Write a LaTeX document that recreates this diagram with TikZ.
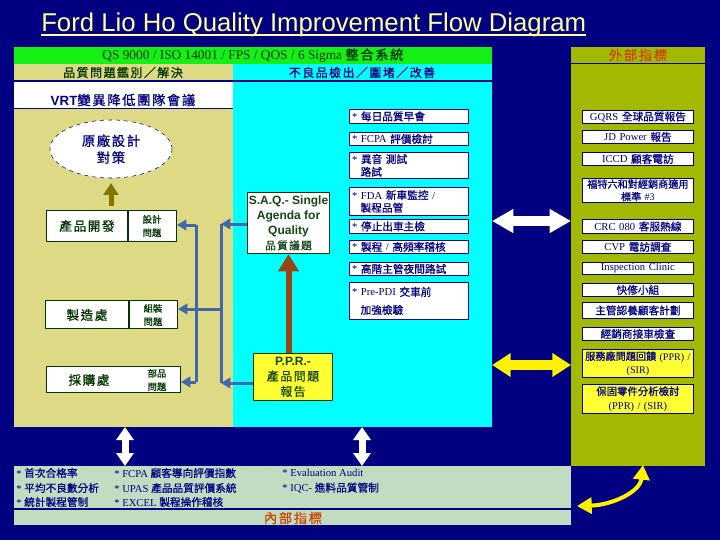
\documentclass[tikz,border=0pt]{standalone}
\usepackage{fontspec}
\setmainfont{Liberation Serif}
\newfontfamily\arialf{Liberation Sans}
\newfontfamily\cjk[FakeBold=0.8]{Noto Sans CJK TC}
\newfontfamily\cjkw[LetterSpace=12.0,FakeBold=0.8]{Noto Sans CJK TC}
\newcommand{\zh}[1]{{\cjk #1}}
\newcommand{\zhw}[1]{{\cjkw #1}}
\usetikzlibrary{arrows.meta,shapes.geometric,calc}

\definecolor{navyc}{RGB}{0,0,128}
\definecolor{greenc}{RGB}{20,240,20}
\definecolor{tanc}{RGB}{221,217,133}
\definecolor{cyanc}{RGB}{0,255,255}
\definecolor{olivec}{RGB}{163,184,0}
\definecolor{lightc}{RGB}{194,220,194}
\definecolor{yelc}{RGB}{255,255,51}
\definecolor{dgreen}{RGB}{0,51,0}
\definecolor{sgreen}{RGB}{20,70,20}
\definecolor{blueac}{RGB}{68,102,170}
\definecolor{brownc}{RGB}{153,68,17}
\definecolor{oarrc}{RGB}{128,118,0}
\definecolor{orangec}{RGB}{204,68,0}
\definecolor{titlec}{RGB}{255,255,153}

\begin{document}
\begin{tikzpicture}[x=0.75pt,y=0.75pt,yscale=-1,xscale=1,
  panel/.style={anchor=north west,inner sep=0pt,outer sep=0pt},
  cbox/.style={anchor=north west,draw=navyc,fill=white,line width=0.6pt,inner xsep=2pt,inner ysep=0pt,text width=85pt,align=left,minimum height=#1,text=navyc,font=\fontsize{8}{9.5}\selectfont},
  ebox/.style={anchor=north west,draw=navyc,fill=white,line width=0.6pt,inner xsep=1.5pt,inner ysep=0pt,text width=80.25pt,align=center,minimum height=#1,text=navyc,font=\fontsize{8}{9.5}\selectfont},
  lbox/.style={anchor=north west,draw=dgreen,fill=white,line width=0.8pt,inner sep=0pt},
  ltxt/.style={text=dgreen,inner sep=0pt,font=\fontsize{9.5}{11}\selectfont},
  stxt/.style={text=dgreen,inner sep=0pt,align=center,font=\fontsize{7}{10}\selectfont},
  btxt/.style={anchor=west,text=navyc,inner sep=0pt,font=\fontsize{8}{9.5}\selectfont},
  bline/.style={draw=blueac,line width=2.25pt},
  barrow/.style={bline,-{Triangle[length=7pt,width=8pt]}},
  wdarrow/.style={draw=white,line width=7.5pt,{Triangle[length=16pt,width=17pt]}-{Triangle[length=16pt,width=17pt]}},
  ydarrow/.style={draw=yellow,line width=7.5pt,{Triangle[length=14pt,width=17pt]}-{Triangle[length=14pt,width=17pt]}},
  wvarrow/.style={draw=white,line width=5.25pt,{Triangle[length=9.75pt,width=12.75pt]}-{Triangle[length=9.75pt,width=12.75pt]}},
  ycurve/.style={draw=yellow,line width=3pt,{Triangle[length=11pt,width=12pt]}-{Triangle[length=11pt,width=12pt]}}
]
%Background
\fill[navyc] (0,0) rectangle (720,540);
\useasboundingbox (0,0) rectangle (720,540);

% Title
\node[anchor=base west,inner sep=0pt,text=titlec,font=\arialf\fontsize{19.3}{22}\selectfont] (title) at (41,31) {Ford Lio Ho Quality Improvement Flow Diagram};
\draw[titlec,line width=1.5pt] ($(title.base west)+(0,4)$) -- ($(title.base east)+(0,4)$);

%Shape: Panels
\node[panel,fill=greenc,minimum width=358.5pt,minimum height=12.75pt] (sysbar) at (14,47) {};
\node[panel,fill=tanc,minimum width=164.25pt,minimum height=12pt] (tanhead) at (14,64) {};
\node[panel,fill=cyanc,minimum width=194.25pt,minimum height=272.25pt] (cyanp) at (233,64) {};
\node[panel,fill=white,minimum width=164.25pt,minimum height=19.5pt] (vrtband) at (14,82) {};
\node[panel,fill=tanc,minimum width=164.25pt,minimum height=238.5pt] (tanp) at (14,109) {};
\node[panel,fill=olivec,minimum width=100.5pt,minimum height=314.25pt] (extp) at (571,47) {};
\node[panel,fill=lightc,minimum width=417.75pt,minimum height=44.25pt] (intp) at (14,466) {};

%Straight Lines
\draw[navyc,line width=1.2pt] (14,81) -- (492,81);
\draw[navyc,line width=0.8pt] (14,108.5) -- (233,108.5);
\draw[navyc,line width=1.2pt] (571,63.5) -- (705,63.5);
\draw[navyc,line width=0.8pt] (14,509) -- (571,509);

% Text Node
\node[text=dgreen,font=\fontsize{10}{12}\selectfont] (systxt) at (253,55.5) {QS 9000 / ISO 14001 / FPS / QOS / 6 Sigma \zhw{整合系統}};
\node[text=dgreen,font=\fontsize{9}{11}\selectfont] (tanhtxt) at (123,72.5) {\zhw{品質問題鑑別／解決}};
\node[text=navyc,font=\fontsize{9}{11}\selectfont] (cyanhtxt) at (362,72.5) {\zhw{不良品檢出／圍堵／改善}};
\node[text=orangec,font=\fontsize{10}{12}\selectfont] (exttxt) at (638,55) {\zhw{外部指標}};
\node[text=orangec,font=\fontsize{10}{12}\selectfont] (inttxt) at (293,518) {\zhw{內部指標}};
\node[text=navyc,font=\fontsize{10}{12}\selectfont] (vrttxt) at (123,100) {{\arialf\bfseries VRT}\zhw{變異降低團隊會議}};

%Shape: Ellipse
\node[ellipse,draw=navyc,dashed,fill=white,minimum width=91.5pt,minimum height=43.5pt,inner sep=0pt,align=center,text=navyc,font=\fontsize{10}{12.5}\selectfont] (vrt) at (111,149) {\zhw{原廠設計}\\\zhw{對策}};

%Shape: Left boxes
\node[lbox,minimum width=97.5pt,minimum height=23.25pt] (dev) at (46,210) {};
\draw[dgreen,line width=1pt] (128,210) -- (128,241);
\node[ltxt] (devtxt) at (87,226) {\zhw{產品開發}};
\node[stxt] (devsub) at (152,226) {\zh{設計}\\\zh{問題}};

\node[lbox,minimum width=99pt,minimum height=21pt] (mfg) at (45,300) {};
\draw[dgreen,line width=1pt] (129,300) -- (129,328);
\node[ltxt] (mfgtxt) at (87,315) {\zhw{製造處}};
\node[stxt] (mfgsub) at (153,315) {\zh{組裝}\\\zh{問題}};

\node[lbox,minimum width=100.5pt,minimum height=19.5pt] (buy) at (46,366) {};
\node[ltxt] (buytxt) at (89,380) {\zhw{採購處}};
\node[stxt] (buysub) at (157,380) {\zh{部品}\\\zh{問題}};

%Shape: S.A.Q. and P.P.R.
\node[draw=dgreen,fill=white,line width=0.8pt,anchor=north west,minimum width=61.5pt,minimum height=45.75pt,inner sep=0pt,align=center,text=sgreen,font=\arialf\bfseries\fontsize{9}{11.25}\selectfont] (saq) at (247,192) {S.A.Q.- Single\\Agenda for\\Quality\\{\mdseries\fontsize{8}{10}\selectfont\zhw{品質議題}}};
\node[draw=dgreen,fill=yelc,line width=0.8pt,anchor=north west,minimum width=59.25pt,minimum height=35.25pt,inner sep=0pt,align=center,text=sgreen,font=\arialf\bfseries\fontsize{9}{11.5}\selectfont] (ppr) at (253,353) {P.P.R.-\\{\mdseries\zhw{產品問題}}\\{\mdseries\zhw{報告}}};

%Shape: Cyan boxes
\node[cbox=10.5pt] (c1) at (349,109) {* \zh{每日品質早會}};
\node[cbox=9.75pt] (c2) at (349,132) {* FCPA \zh{評價檢討}};
\node[cbox=19.5pt] (c3) at (349,152) {* \zh{異音 測試}\\\hspace*{0.8em}\zh{路試}};
\node[cbox=21pt] (c4) at (349,187) {* FDA \zh{新車監控} /\\\hspace*{0.8em}\zh{製程品管}};
\node[cbox=10.5pt] (c5) at (349,219) {* \zh{停止出車主檢}};
\node[cbox=9.75pt] (c6) at (349,240) {* \zh{製程} / \zh{高頻率稽核}};
\node[cbox=9.75pt] (c7) at (349,262) {* \zh{高階主管夜間路試}};
\node[cbox=27.75pt] (c8) at (349,282) {* Pre-PDI \zh{交車前}\\[4pt]\hspace*{0.8em}\zh{加強檢驗}};

%Shape: External boxes
\node[ebox=9.75pt] (e1) at (582,110) {GQRS \zh{全球品質報告}};
\node[ebox=9.75pt] (e2) at (582,130) {JD Power \zh{報告}};
\node[ebox=9.75pt] (e3) at (582,152) {ICCD \zh{顧客電訪}};
\node[ebox=18pt,font=\fontsize{7.6}{9.5}\selectfont] (e4) at (582,178) {\zh{福特六和對經銷商適用}\\\zh{標準} \#3};
\node[ebox=10.5pt] (e5) at (582,219) {CRC 080 \zh{客服熱線}};
\node[ebox=9.75pt] (e6) at (582,240) {CVP \zh{電訪調查}};
\node[ebox=9pt] (e7) at (582,262) {Inspection Clinic};
\node[ebox=9.75pt] (e8) at (582,283) {\zh{快修小組}};
\node[ebox=12pt] (e9) at (582,302) {\zh{主管認養顧客計劃}};
\node[ebox=9.75pt] (e10) at (582,327) {\zh{經銷商接車檢查}};
\node[ebox=21pt,fill=yelc,font=\fontsize{7.6}{10}\selectfont] (e11) at (582,349) {\zh{服務廠問題回饋} (PPR) /\\(SIR)};
\node[ebox=21.75pt,fill=yelc,font=\fontsize{7.8}{10.5}\selectfont] (e12) at (582,384) {\zh{保固零件分析檢討}\\(PPR) / (SIR)};

% Text Node: internal indicators
\node[btxt] (k1) at (16,473) {* \zh{首次合格率}};
\node[btxt] (k2) at (16,488) {* \zh{平均不良數分析}};
\node[btxt] (k3) at (16,502) {* \zh{統計製程管制}};
\node[btxt] (k4) at (114,473) {* FCPA \zh{顧客導向評價指數}};
\node[btxt] (k5) at (114,488) {* UPAS \zh{產品品質評價系統}};
\node[btxt] (k6) at (114,502) {* EXCEL \zh{製程操作稽核}};
\node[btxt] (k7) at (282,473) {* Evaluation Audit};
\node[btxt] (k8) at (282,488) {* IQC- \zh{進料品質管制}};

%Arrows
\draw[draw=brownc,line width=4.5pt,-{Triangle[length=13pt,width=15pt]}] (saq.south |- ppr.north) -- (saq.south);
\draw[draw=oarrc,line width=3.75pt,-{Triangle[length=9pt,width=11pt]},shorten <=3pt,shorten >=3.5pt] (dev.north -| vrt.south) -- (vrt.south);

\coordinate (jr1) at (221,224);
\coordinate (jr2) at (221,383);
\coordinate (jr3) at (221,309);
\coordinate (jl1) at (196,225);
\coordinate (jl2) at (196,382);
\draw[bline] (jr1) -- (jr2);
\draw[bline] (jl1) -- (jl2);
\draw[barrow] (saq.west |- jr1) -- (jr1);
\draw[barrow] (ppr.west |- jr2) -- (jr2);
\draw[barrow] (jr3) -- (jr3 -| mfg.east);
\draw[barrow] (jl1) -- (jl1 -| dev.east);
\draw[barrow] (jl2) -- (jl2 -| buy.east);

\coordinate (wa) at (0,221);
\coordinate (ya) at (0,365);
\draw[wdarrow] (cyanp.east |- wa) -- (extp.west |- wa);
\draw[ydarrow] (cyanp.east |- ya) -- (extp.west |- ya);

\coordinate (va1) at (125,0);
\coordinate (va2) at (362,0);
\draw[wvarrow] (tanp.south -| va1) -- (intp.north -| va1);
\draw[wvarrow] (cyanp.south -| va2) -- (intp.north -| va2);

\coordinate (ca) at (577,506);
\coordinate (cb) at (643,465);
\draw[ycurve] (ca) .. controls (612,505) and (640,492) .. (cb);

\end{tikzpicture}
\end{document}
